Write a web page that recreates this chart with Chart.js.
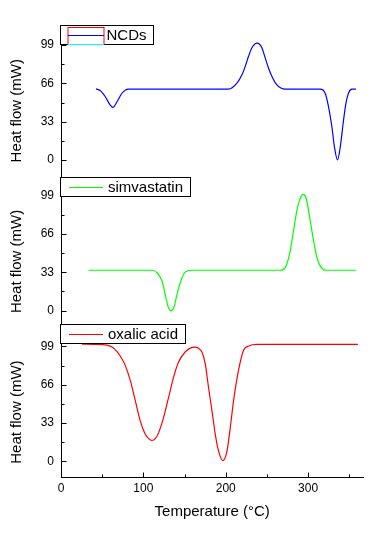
<!DOCTYPE html>
<html>
<head>
<meta charset="utf-8">
<script src="https://cdn.jsdelivr.net/npm/chart.js@4.4.1/dist/chart.umd.min.js"></script>
<style>
html,body{margin:0;padding:0;background:#fff;}
canvas{display:block;}
</style>
</head>
<body>
<canvas id="c" width="388" height="535"></canvas>
<script>
// ---- data ----
const seriesNames = ['NCDs', 'simvastatin', 'oxalic acid'];
const yTickValues = [0, 33, 66, 99];
const xTickValues = [0, 100, 200, 300];

const ncdsTemp = [42.5, 47.7, 53.8, 59.8, 63.1, 68, 74, 78, 81.7, 120, 160, 203.4, 213.6, 219.7, 223.7, 227.7, 231.8, 235, 238.2, 241, 243.9, 247.9, 251.9, 256.1, 262.1, 272.2, 290, 314.7, 320.7, 324.8, 328.9, 332, 335.7, 339, 343, 345.9, 349, 353.2, 358];
const ncdsHeat = [61.3, 59.8, 54.5, 47.3, 45.3, 50.2, 57.5, 60.2, 61, 61, 61, 61, 66.2, 73.4, 80.7, 89.4, 96.7, 99.8, 100.8, 99.8, 96.7, 88, 79.3, 72, 64.7, 61, 61, 61, 57.5, 45.8, 28.4, 11, 0, 11, 34.2, 48.8, 57.5, 61, 61];

const simTemp = [33.5, 80, 110.4, 116.5, 122.6, 127.4, 130.6, 133.9, 137.5, 140.8, 144.8, 148.8, 152, 159, 200, 266.1, 272.2, 278.3, 282.3, 286.4, 290.4, 294.4, 297.7, 302.5, 306.6, 310.7, 314.7, 320.8, 358];
const simHeat = [34.8, 34.8, 34.8, 32.8, 25.5, 11, 2.3, 0, 3.7, 13.9, 24, 31.4, 33.8, 34.8, 34.8, 34.8, 37.1, 51.6, 69, 86.5, 96.7, 100.2, 96.7, 77.8, 60.4, 45.8, 38.6, 34.8, 34.8];

const oxTemp = [25.5, 40, 55.8, 62, 68, 73, 78, 84.1, 90.2, 96.2, 102.3, 106.4, 110.4, 114.5, 118.5, 124.5, 130.6, 136.7, 142.7, 150.8, 157, 162, 167, 171.1, 175.1, 179.1, 183.3, 187.3, 191.3, 196.6, 201.5, 205.5, 209.5, 215.5, 221.6, 228, 237.9, 300, 360.4];
const oxHeat = [101, 100.8, 100.2, 98.5, 94.5, 89.5, 82.7, 69.7, 52.3, 34.8, 23.2, 19.5, 18, 19.5, 24.7, 37.7, 55.1, 72.6, 85.6, 94.3, 97.6, 98.4, 97.4, 94.3, 84.2, 63.8, 43.5, 23.2, 8.7, 0.6, 8.7, 29, 52.3, 78.4, 95.8, 99.5, 100.8, 100.8, 100.8];

const toPts = (xs, ys) => xs.map((x, i) => ({x: x, y: ys[i]}));

const FONT = '"Liberation Sans", Arial, sans-serif';
const Y_MIN = -13.6, Y_MAX = 116.4;

function yScale() {
  return {
    type: 'linear', position: 'left', stack: 'panels', stackWeight: 1,
    min: Y_MIN, max: Y_MAX,
    afterBuildTicks: s => { s.ticks = yTickValues.map(v => ({value: v})); },
    afterFit: s => { s.width = 61; },
    grid: {display: true, drawOnChartArea: false, drawTicks: false, color: '#000'},
    border: {display: true, color: '#000', width: 1},
    ticks: {color: '#000', padding: 7, font: {family: FONT, size: 12}},
    title: {display: true, text: 'Heat flow (mW)     ', color: '#000',
            font: {family: FONT, size: 15}, padding: {top: 8, bottom: 0}}
  };
}

const legendInfo = {
  yNcd: {name: seriesNames[0], color: '#0000ff', dy: 0, special: true},
  ySim: {name: seriesNames[1], color: '#00ff00', dy: 1},
  yOx: {name: seriesNames[2], color: '#ff0000', dy: -2}
};

const decoPlugin = {
  id: 'deco',
  afterDraw(chart) {
    const ctx = chart.ctx;
    ctx.save();
    ctx.strokeStyle = '#000';
    ctx.lineWidth = 1;
    // inward y ticks
    ['yNcd', 'ySim', 'yOx'].forEach(id => {
      const s = chart.scales[id];
      const xr = Math.round(s.right) + 0.5;
      for (let v = 0; v <= 99.01; v += 16.5) {
        const major = Math.abs(v % 33) < 0.01;
        const y = Math.round(s.getPixelForValue(v)) + 0.5;
        ctx.beginPath();
        ctx.moveTo(xr - 0.5, y);
        ctx.lineTo(xr + (major ? 5 : 3), y);
        ctx.stroke();
      }
    });
    // inward x ticks
    const xs = chart.scales.x;
    const yt = Math.round(xs.top) + 0.5;
    for (let v = 50; v <= 360; v += 50) {
      const major = v % 100 === 0;
      const x = Math.round(xs.getPixelForValue(v)) + 0.5;
      ctx.beginPath();
      ctx.moveTo(x, yt);
      ctx.lineTo(x, yt - (major ? 5 : 3));
      ctx.stroke();
    }
    // legends
    ctx.font = '15px ' + FONT;
    ctx.textBaseline = 'middle';
    Object.keys(legendInfo).forEach(id => {
      const s = chart.scales[id];
      const info = legendInfo[id];
      const left = Math.round(chart.chartArea.left) - 0.5;
      const top = Math.round(s.top + info.dy) + 0.5;
      const h = 19;
      const textX = info.special ? left + 46 : left + 47.5;
      const tw = ctx.measureText(info.name).width;
      const right = Math.round(textX + tw + 6.5) + 0.5;
      ctx.fillStyle = '#fff';
      ctx.fillRect(left, top, right - left, h);
      ctx.strokeStyle = '#000';
      ctx.lineWidth = 1;
      ctx.strokeRect(left, top, right - left, h);
      const cy = top + h / 2;
      if (info.special) {
        ctx.strokeStyle = '#ff0000';
        ctx.strokeRect(left + 7.5, top + 2, 36, h - 2);
        ctx.strokeStyle = '#00ffff';
        ctx.beginPath(); ctx.moveTo(left + 7.5, top + h); ctx.lineTo(left + 43.5, top + h); ctx.stroke();
        ctx.strokeStyle = info.color;
        ctx.beginPath(); ctx.moveTo(left + 7.5, Math.round(cy) + 0.5); ctx.lineTo(left + 43.5, Math.round(cy) + 0.5); ctx.stroke();
      } else {
        ctx.strokeStyle = info.color;
        ctx.beginPath(); ctx.moveTo(left + 8.5, Math.round(cy) + 0.5); ctx.lineTo(left + 42.5, Math.round(cy) + 0.5); ctx.stroke();
      }
      ctx.fillStyle = '#000';
      ctx.fillText(info.name, textX, cy + 1);
    });
    ctx.restore();
  }
};

const ds = (label, xs, ys, color, axis) => ({
  label: label, data: toPts(xs, ys), yAxisID: axis,
  borderColor: color, backgroundColor: color, borderWidth: 1.2,
  pointRadius: 0, fill: false, cubicInterpolationMode: 'monotone'
});

new Chart(document.getElementById('c'), {
  type: 'line',
  data: {
    datasets: [
      ds(seriesNames[0], ncdsTemp, ncdsHeat, '#0000ff', 'yNcd'),
      ds(seriesNames[1], simTemp, simHeat, '#00ff00', 'ySim'),
      ds(seriesNames[2], oxTemp, oxHeat, '#ff0000', 'yOx')
    ]
  },
  options: {
    responsive: false, animation: false, devicePixelRatio: 1,
    layout: {padding: {top: 25, right: 24.7, left: 0, bottom: 0}},
    plugins: {legend: {display: false}, tooltip: {enabled: false}},
    scales: {
      x: {
        type: 'linear', position: 'bottom', min: 0, max: 367,
        afterBuildTicks: s => { s.ticks = xTickValues.map(v => ({value: v})); },
        afterFit: s => { s.height = 58; },
        grid: {display: true, drawOnChartArea: false, drawTicks: false, color: '#000'},
        border: {display: true, color: '#000', width: 1},
        ticks: {color: '#000', padding: 4, maxRotation: 0, font: {family: FONT, size: 12}},
        title: {display: true, text: 'Temperature (°C)', color: '#000',
                font: {family: FONT, size: 15}, padding: {top: 0, bottom: 14}}
      },
      yOx: yScale(),
      ySim: yScale(),
      yNcd: yScale()
    }
  },
  plugins: [decoPlugin]
});
</script>
</body>
</html>
